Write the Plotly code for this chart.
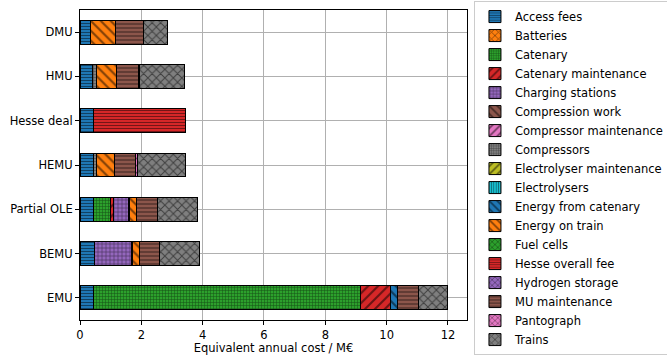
import plotly.graph_objects as go

scenarios = ["DMU", "HMU", "Hesse deal", "HEMU", "Partial OLE", "BEMU", "EMU"]

categories = [
    "Access fees", "Batteries", "Catenary", "Catenary maintenance",
    "Charging stations", "Compression work", "Compressor maintenance",
    "Compressors", "Electrolyser maintenance", "Electrolysers",
    "Energy from catenary", "Energy on train", "Fuel cells",
    "Hesse overall fee", "Hydrogen storage", "MU maintenance",
    "Pantograph", "Trains",
]

# values per category, in scenario order (DMU, HMU, Hesse deal, HEMU, Partial OLE, BEMU, EMU)
access_fees = [0.33, 0.42, 0.44, 0.44, 0.45, 0.47, 0.44]
batteries = [0, 0, 0, 0, 0, 0, 0]
catenary = [0, 0, 0, 0, 0.53, 0, 8.72]
catenary_maintenance = [0, 0, 0, 0, 0.11, 0, 0.95]
charging_stations = [0, 0, 0, 0, 0.50, 1.20, 0]
compression_work = [0, 0, 0, 0, 0, 0, 0]
compressor_maintenance = [0, 0, 0, 0, 0, 0, 0]
compressors = [0, 0.11, 0, 0.11, 0, 0, 0]
electrolyser_maintenance = [0, 0, 0, 0, 0, 0, 0]
electrolysers = [0, 0, 0, 0, 0, 0, 0]
energy_from_catenary = [0, 0, 0, 0, 0.04, 0.04, 0.24]
energy_on_train = [0.82, 0.67, 0, 0.58, 0.22, 0.23, 0]
fuel_cells = [0, 0, 0, 0, 0, 0, 0]
hesse_overall_fee = [0, 0, 2.99, 0, 0, 0, 0]
hydrogen_storage = [0, 0, 0, 0, 0, 0, 0]
mu_maintenance = [0.93, 0.70, 0, 0.68, 0.68, 0.66, 0.68]
pantograph = [0, 0.05, 0, 0.06, 0, 0, 0]
trains = [0.76, 1.45, 0, 1.58, 1.29, 1.29, 0.97]

series = [access_fees, batteries, catenary, catenary_maintenance,
          charging_stations, compression_work, compressor_maintenance,
          compressors, electrolyser_maintenance, electrolysers,
          energy_from_catenary, energy_on_train, fuel_cells,
          hesse_overall_fee, hydrogen_storage, mu_maintenance,
          pantograph, trains]

colors = ["#1f77b4", "#ff7f0e", "#2ca02c", "#d62728", "#9467bd", "#8c564b",
          "#e377c2", "#7f7f7f", "#bcbd22", "#17becf", "#1f77b4", "#ff7f0e",
          "#2ca02c", "#d62728", "#9467bd", "#8c564b", "#e377c2", "#7f7f7f"]
shapes = ["-", "x", "+", "/", "+", "\\", "/", "+", "/", "|",
          "\\", "\\", "x", "-", "x", "-", "x", "x"]
sizes = [3, 6, 3, 7, 4, 7, 7, 3, 7, 3, 7, 7, 5, 3, 5, 4, 5, 6]

fig = go.Figure()
for name, vals, c, sh, sz in zip(categories, series, colors, shapes, sizes):
    fig.add_trace(go.Bar(
        y=scenarios, x=vals, name=name, orientation="h",
        marker=dict(color=c, line=dict(color="black", width=1),
                    pattern=dict(shape=sh, size=sz, solidity=0.3,
                                 fgcolor="black", fillmode="overlay")),
    ))

fig.update_layout(
    barmode="stack", bargap=0.46,
    width=667, height=355,
    margin=dict(l=80, r=200, t=10, b=35, autoexpand=False),
    paper_bgcolor="white", plot_bgcolor="white",
    font=dict(family="DejaVu Sans", size=11.5, color="black"),
    legend=dict(x=1.018, y=0.997, xanchor="left", yanchor="top",
                yref="container", maxheight=355,
                bordercolor="#cccccc", borderwidth=1, bgcolor="white",
                font=dict(size=11.5), traceorder="normal", itemwidth=30,
                tracegroupgap=0),
    xaxis=dict(range=[0, 12.62], tickvals=[0, 2, 4, 6, 8, 10, 12],
               showgrid=True, gridcolor="#b0b0b0", gridwidth=0.8,
               showline=True, linecolor="black", linewidth=1, mirror=True,
               ticks="outside", ticklen=4, tickcolor="black",
               tickfont=dict(size=11.5),
               zeroline=False, layer="above traces", automargin=False,
               title=dict(text="Equivalent annual cost / M€", standoff=5,
                          font=dict(size=11.5))),
    yaxis=dict(categoryorder="array", categoryarray=scenarios[::-1],
               range=[-0.5, 6.5], automargin=False,
               showgrid=True, gridcolor="#b0b0b0", gridwidth=0.8,
               showline=True, linecolor="black", linewidth=1, mirror=True,
               ticks="outside", ticklen=4, tickcolor="black",
               layer="above traces"),
)

fig.write_html("out.html", config={"displayModeBar": False},
               post_script="document.body.style.margin='0px';")
